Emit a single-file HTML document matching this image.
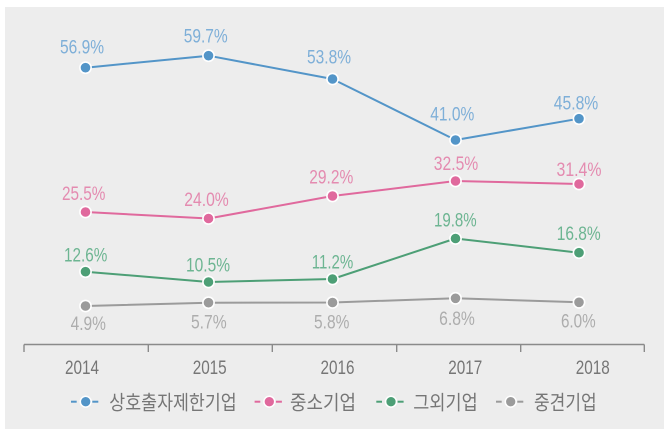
<!DOCTYPE html>
<html><head><meta charset="utf-8"><style>
html,body{margin:0;padding:0;background:#fff;}
svg{display:block;}
</style></head><body>
<svg width="670" height="434" viewBox="0 0 670 434" xmlns="http://www.w3.org/2000/svg">
<rect x="0" y="0" width="670" height="434" fill="#ffffff"/>
<rect x="5" y="7" width="659" height="422" fill="#ededed"/>

<!-- axis -->
<g stroke="#8a8a8a" stroke-width="1.4" fill="none">
<line x1="24" y1="344.5" x2="644.3" y2="344.5"/>
<line x1="24" y1="344.5" x2="24" y2="352"/>
<line x1="148.3" y1="344.5" x2="148.3" y2="352"/>
<line x1="272.3" y1="344.5" x2="272.3" y2="352"/>
<line x1="396.7" y1="344.5" x2="396.7" y2="352"/>
<line x1="520.7" y1="344.5" x2="520.7" y2="352"/>
<line x1="644.3" y1="344.5" x2="644.3" y2="352"/>
</g>

<g font-family="'Liberation Sans', sans-serif" font-size="19.5" fill="#767676" text-anchor="middle" lengthAdjust="spacingAndGlyphs">
<text x="82" y="374" textLength="34" lengthAdjust="spacingAndGlyphs">2014</text>
<text x="209.7" y="374" textLength="34" lengthAdjust="spacingAndGlyphs">2015</text>
<text x="337.5" y="374" textLength="34" lengthAdjust="spacingAndGlyphs">2016</text>
<text x="465.3" y="374" textLength="34" lengthAdjust="spacingAndGlyphs">2017</text>
<text x="592.8" y="374" textLength="34" lengthAdjust="spacingAndGlyphs">2018</text>
</g>

<!-- series lines -->
<g fill="none" stroke-width="2" stroke-linejoin="round">
<polyline stroke="#5395c8" points="85.5,67.7 208.5,55.7 332.5,79 455.5,140 579,118.7"/>
<polyline stroke="#e0699d" points="85.5,212 208.5,218.5 332.5,196 455.5,181 579,184"/>
<polyline stroke="#4d9f76" points="85.5,271.7 208.5,282 332.5,279 455.5,238.5 579,252.7"/>
<polyline stroke="#9b9b9b" points="85.5,306 208.5,302.7 332.5,302.5 455.5,298.3 579,302.3"/>
</g>

<!-- dots -->
<g stroke="#ffffff" stroke-width="1.6">
<g fill="#5395c8">
<circle cx="85.5" cy="67.7" r="5.6"/><circle cx="208.5" cy="55.7" r="5.6"/><circle cx="332.5" cy="79" r="5.6"/><circle cx="455.5" cy="140" r="5.6"/><circle cx="579" cy="118.7" r="5.6"/>
</g>
<g fill="#e0699d">
<circle cx="85.5" cy="212" r="5.6"/><circle cx="208.5" cy="218.5" r="5.6"/><circle cx="332.5" cy="196" r="5.6"/><circle cx="455.5" cy="181" r="5.6"/><circle cx="579" cy="184" r="5.6"/>
</g>
<g fill="#4d9f76">
<circle cx="85.5" cy="271.7" r="5.6"/><circle cx="208.5" cy="282" r="5.6"/><circle cx="332.5" cy="279" r="5.6"/><circle cx="455.5" cy="238.5" r="5.6"/><circle cx="579" cy="252.7" r="5.6"/>
</g>
<g fill="#9b9b9b">
<circle cx="85.5" cy="306" r="5.6"/><circle cx="208.5" cy="302.7" r="5.6"/><circle cx="332.5" cy="302.5" r="5.6"/><circle cx="455.5" cy="298.3" r="5.6"/><circle cx="579" cy="302.3" r="5.6"/>
</g>
</g>

<!-- value labels -->
<g font-family="'Liberation Sans', sans-serif" font-size="19.5" text-anchor="middle">
<g fill="#7eafd8">
<text x="82" y="53.3" textLength="44" lengthAdjust="spacingAndGlyphs">56.9%</text>
<text x="205.7" y="42.7" textLength="44" lengthAdjust="spacingAndGlyphs">59.7%</text>
<text x="329" y="63.3" textLength="44" lengthAdjust="spacingAndGlyphs">53.8%</text>
<text x="452.3" y="120.7" textLength="44" lengthAdjust="spacingAndGlyphs">41.0%</text>
<text x="576" y="109.3" textLength="44.5" lengthAdjust="spacingAndGlyphs">45.8%</text>
</g>
<g fill="#e48bb0">
<text x="83.7" y="200" textLength="43.5" lengthAdjust="spacingAndGlyphs">25.5%</text>
<text x="206.5" y="206" textLength="44.5" lengthAdjust="spacingAndGlyphs">24.0%</text>
<text x="331.3" y="183.3" textLength="44" lengthAdjust="spacingAndGlyphs">29.2%</text>
<text x="456" y="169.8" textLength="44.5" lengthAdjust="spacingAndGlyphs">32.5%</text>
<text x="579" y="175.8" textLength="45" lengthAdjust="spacingAndGlyphs">31.4%</text>
</g>
<g fill="#6db592">
<text x="85.7" y="261.6" textLength="43.3" lengthAdjust="spacingAndGlyphs">12.6%</text>
<text x="208" y="271.6" textLength="44" lengthAdjust="spacingAndGlyphs">10.5%</text>
<text x="332.5" y="268.3" textLength="41.6" lengthAdjust="spacingAndGlyphs">11.2%</text>
<text x="455.3" y="226.7" textLength="42.7" lengthAdjust="spacingAndGlyphs">19.8%</text>
<text x="578.7" y="240" textLength="44" lengthAdjust="spacingAndGlyphs">16.8%</text>
</g>
<g fill="#adadad">
<text x="88.3" y="330" textLength="35.3" lengthAdjust="spacingAndGlyphs">4.9%</text>
<text x="208.8" y="328.3" textLength="35.7" lengthAdjust="spacingAndGlyphs">5.7%</text>
<text x="331.7" y="328.3" textLength="35.3" lengthAdjust="spacingAndGlyphs">5.8%</text>
<text x="457" y="325" textLength="35.7" lengthAdjust="spacingAndGlyphs">6.8%</text>
<text x="578.3" y="327.3" textLength="34.7" lengthAdjust="spacingAndGlyphs">6.0%</text>
</g>
</g>

<!-- legend -->
<g stroke-width="2" fill="none">
<g stroke="#5395c8"><line x1="71" y1="401.7" x2="76.7" y2="401.7"/><line x1="92.3" y1="401.7" x2="98.3" y2="401.7"/></g>
<g stroke="#e0699d"><line x1="254.6" y1="401.7" x2="260.3" y2="401.7"/><line x1="275.9" y1="401.7" x2="281.9" y2="401.7"/></g>
<g stroke="#4d9f76"><line x1="376.3" y1="401.7" x2="382" y2="401.7"/><line x1="397.6" y1="401.7" x2="403.6" y2="401.7"/></g>
<g stroke="#9b9b9b"><line x1="496" y1="401.7" x2="501.7" y2="401.7"/><line x1="517.3" y1="401.7" x2="523.3" y2="401.7"/></g>
</g>
<g stroke="#ffffff" stroke-width="1.5">
<circle cx="85.7" cy="401.7" r="5.4" fill="#5395c8"/>
<circle cx="269.3" cy="401.7" r="5.4" fill="#e0699d"/>
<circle cx="391" cy="401.7" r="5.4" fill="#4d9f76"/>
<circle cx="510.7" cy="401.7" r="5.4" fill="#9b9b9b"/>
</g>
<g font-family="'Liberation Sans', 'Noto Sans CJK KR', sans-serif" font-size="20" fill="#767676">
<text x="109.3" y="409.5" textLength="127.4" lengthAdjust="spacingAndGlyphs">상호출자제한기업</text>
<text x="290" y="409.5" textLength="66" lengthAdjust="spacingAndGlyphs">중소기업</text>
<text x="413.3" y="409.5" textLength="64.4" lengthAdjust="spacingAndGlyphs">그외기업</text>
<text x="534" y="409.5" textLength="62.7" lengthAdjust="spacingAndGlyphs">중견기업</text>
</g>
</svg>
</body></html>
